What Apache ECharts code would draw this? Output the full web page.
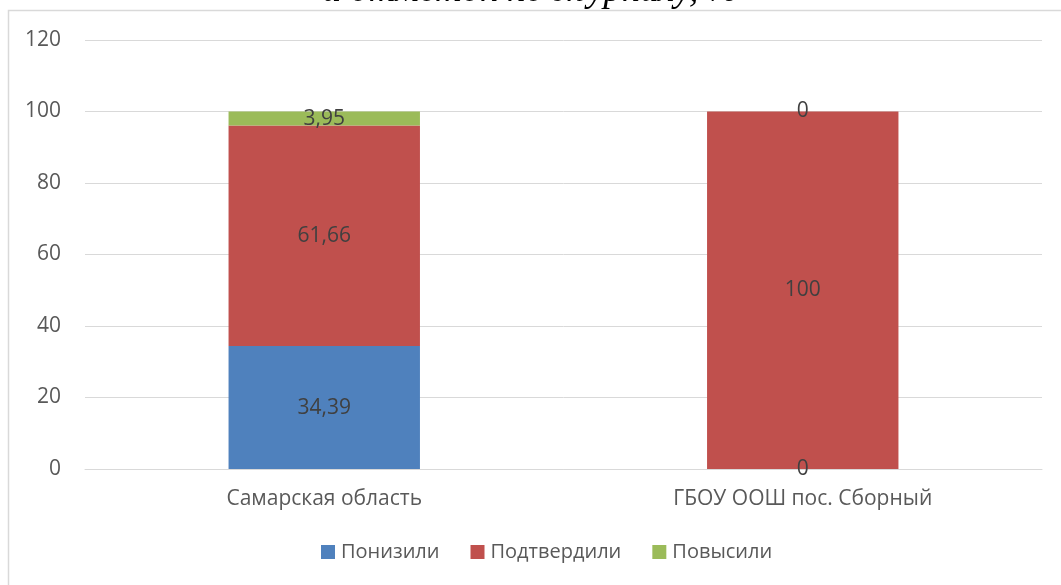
<!DOCTYPE html>
<html>
<head>
<meta charset="utf-8">
<script src="https://cdn.jsdelivr.net/npm/echarts@6/dist/echarts.min.js"></script>
<style>
  html, body { margin: 0; padding: 0; background: #fff; }
  #chart { width: 1061px; height: 585px; }
</style>
</head>
<body>
<div id="chart"></div>
<script>
const categories = ["Самарская область", "ГБОУ ООШ пос. Сборный"];
const lowered = [34.39, 0];
const confirmed = [61.66, 100];
const raised = [3.95, 0];
const seriesNames = ["Понизили", "Подтвердили", "Повысили"];
const colors = ["#4F81BD", "#C0504D", "#9BBB59"];

const chart = echarts.init(document.getElementById("chart"));
const fontFamily = "'Open Sans', 'Noto Sans', sans-serif";

// numbers shown with a decimal comma
const fmt = (p) => String(p.value).replace(".", ",");

const makeSeries = (name, data, color) => ({
    name: name,
    type: "bar",
    stack: "total",
    data: data,
    barWidth: "40%",
    itemStyle: { color: color },
    label: {
        show: true,
        position: "inside",
        color: "#404040",
        fontSize: 21,
        fontFamily: fontFamily,
        formatter: fmt,
    },
});

chart.setOption({
    animation: false,
    title: {
        text: "и отметок по журналу, %",
        left: "center",
        top: -32,
        textStyle: {
            fontFamily: "'Liberation Serif', serif",
            fontStyle: "italic",
            fontWeight: "normal",
            fontSize: 37,
            color: "#000",
        },
    },
    graphic: [
        {
            type: "rect",
            shape: { x: 8.5, y: 10.5, width: 1070, height: 600 },
            style: { fill: "#fff", stroke: "#d9d9d9", lineWidth: 1.5 },
            z: -1,
        },
    ],
    legend: {
        data: seriesNames,
        bottom: 18,
        left: 316,
        itemWidth: 14,
        itemHeight: 14,
        itemGap: 31,
        icon: "rect",
        textStyle: { fontSize: 20, color: "#595959", fontFamily: fontFamily, padding: [0, 0, 0, 1] },
    },
    grid: { left: 85, right: 19, top: 40, bottom: 116 },
    xAxis: {
        type: "category",
        data: categories,
        axisLine: { lineStyle: { color: "#d9d9d9" } },
        axisTick: { show: false },
        axisLabel: { fontSize: 21, color: "#595959", fontFamily: fontFamily, margin: 20 },
    },
    yAxis: {
        type: "value",
        min: 0,
        max: 120,
        interval: 20,
        axisLine: { show: false },
        axisTick: { show: false },
        splitLine: { lineStyle: { color: "#d9d9d9", width: 1 } },
        axisLabel: { fontSize: 21, color: "#595959", fontFamily: fontFamily, margin: 24 },
    },
    series: [
        makeSeries(seriesNames[0], lowered, colors[0]),
        makeSeries(seriesNames[1], confirmed, colors[1]),
        makeSeries(seriesNames[2], raised, colors[2]),
    ],
});
</script>
</body>
</html>
